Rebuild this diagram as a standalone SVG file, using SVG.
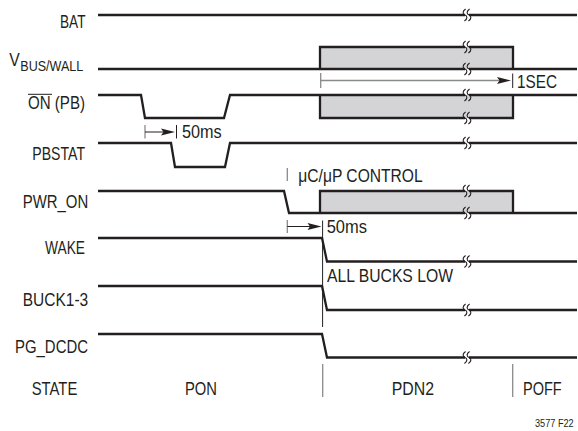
<svg xmlns="http://www.w3.org/2000/svg" xmlns:xlink="http://www.w3.org/1999/xlink" width="578" height="431" viewBox="0 0 578 431">
<style>
text{font-family:"Liberation Sans Narrow","Liberation Sans",Arial,sans-serif;font-size:17.5px;fill:#231f20}
.sub{font-size:15px}
.small{font-size:11px}
.sig{fill:none;stroke:#231f20;stroke-width:2.3;stroke-linejoin:miter}
.box{fill:#d4d4d6;stroke:none}
.brk{fill:none;stroke:#231f20;stroke-width:1.1}
.thin{fill:none;stroke:#231f20;stroke-width:1}
.gray{fill:none;stroke:#8a8a8a;stroke-width:1.3}
.ah{fill:#231f20}
</style>
<defs>
<path id="bm" d="M0.6,-6 C-2.6,-4 -2.6,-1 0,0 C2.6,1 2.6,4 -0.6,6"/>
</defs>
<g id="BAT">
<text x="60" y="28" textLength="25.5" lengthAdjust="spacingAndGlyphs">BAT</text>
<path class="sig" d="M98,15 H465 M469,15 H577"/>
<use href="#bm" xlink:href="#bm" class="brk" x="465" y="15"/><use href="#bm" xlink:href="#bm" class="brk" x="469" y="15"/>
</g>
<g id="VBUS">
<text x="9.3" y="66" textLength="10.5" lengthAdjust="spacingAndGlyphs">V</text>
<text class="sub" x="20.3" y="70.5" textLength="63" lengthAdjust="spacingAndGlyphs">BUS/WALL</text>
<rect class="box" x="320" y="47" width="193" height="22"/>
<path class="sig" d="M98,69 H465 M469,69 H577"/>
<path class="sig" d="M320,69 V47 H465 M469,47 H513 V69"/>
<use href="#bm" xlink:href="#bm" class="brk" x="465" y="47"/><use href="#bm" xlink:href="#bm" class="brk" x="469" y="47"/>
<use href="#bm" xlink:href="#bm" class="brk" x="465" y="69"/><use href="#bm" xlink:href="#bm" class="brk" x="469" y="69"/>
</g>
<g id="ON_PB">
<text x="28" y="108.5" textLength="57" lengthAdjust="spacingAndGlyphs">ON (PB)</text>
<line class="thin" x1="28" y1="94.3" x2="52" y2="94.3"/>
<rect class="box" x="320" y="95" width="193" height="23"/>
<path class="sig" d="M98,95 H141 L145,118 H224 L230,95 H465 M469,95 H577"/>
<path class="sig" d="M320,95 V118 H465 M469,118 H513 V95"/>
<use href="#bm" xlink:href="#bm" class="brk" x="465" y="95"/><use href="#bm" xlink:href="#bm" class="brk" x="469" y="95"/>
<use href="#bm" xlink:href="#bm" class="brk" x="465" y="118"/><use href="#bm" xlink:href="#bm" class="brk" x="469" y="118"/>
</g>
<g id="PBSTAT">
<text x="32.3" y="159.5" textLength="52.7" lengthAdjust="spacingAndGlyphs">PBSTAT</text>
<path class="sig" d="M98,143 H171 L175,167 H225 L230,143 H465 M469,143 H577"/>
<use href="#bm" xlink:href="#bm" class="brk" x="465" y="143"/><use href="#bm" xlink:href="#bm" class="brk" x="469" y="143"/>
</g>
<g id="PWR_ON">
<text x="22.7" y="208" textLength="65.5" lengthAdjust="spacingAndGlyphs">PWR_ON</text>
<rect class="box" x="320" y="191" width="193" height="22"/>
<path class="sig" d="M98,191 H284 L289,213 H465 M469,213 H577"/>
<path class="sig" d="M320,213 V191 H465 M469,191 H513 V213"/>
<use href="#bm" xlink:href="#bm" class="brk" x="465" y="191"/><use href="#bm" xlink:href="#bm" class="brk" x="469" y="191"/>
<use href="#bm" xlink:href="#bm" class="brk" x="465" y="213"/><use href="#bm" xlink:href="#bm" class="brk" x="469" y="213"/>
<text x="298.3" y="182" textLength="124.4" lengthAdjust="spacingAndGlyphs">μC/μP CONTROL</text>
</g>
<g id="WAKE">
<text x="45" y="254" textLength="40" lengthAdjust="spacingAndGlyphs">WAKE</text>
<path class="sig" d="M98,238 H322 L327,261.5 H465 M469,261.5 H577"/>
<use href="#bm" xlink:href="#bm" class="brk" x="465" y="261.5"/><use href="#bm" xlink:href="#bm" class="brk" x="469" y="261.5"/>
<text x="327" y="281.7" textLength="126" lengthAdjust="spacingAndGlyphs">ALL BUCKS LOW</text>
</g>
<g id="BUCK1-3">
<text x="22.7" y="306" textLength="65.5" lengthAdjust="spacingAndGlyphs">BUCK1-3</text>
<path class="sig" d="M98,286 H322 L327,310 H465 M469,310 H577"/>
<use href="#bm" xlink:href="#bm" class="brk" x="465" y="310"/><use href="#bm" xlink:href="#bm" class="brk" x="469" y="310"/>
</g>
<g id="PG_DCDC">
<text x="15" y="353" textLength="73" lengthAdjust="spacingAndGlyphs">PG_DCDC</text>
<path class="sig" d="M98,334 H322 L327,357.5 H465 M469,357.5 H577"/>
<use href="#bm" xlink:href="#bm" class="brk" x="465" y="357.5"/><use href="#bm" xlink:href="#bm" class="brk" x="469" y="357.5"/>
</g>
<g id="STATE">
<text x="31.7" y="394.5" textLength="45.6" lengthAdjust="spacingAndGlyphs">STATE</text>
<text x="185" y="395" textLength="32" lengthAdjust="spacingAndGlyphs">PON</text>
<text x="391.7" y="394.5" textLength="42.3" lengthAdjust="spacingAndGlyphs">PDN2</text>
<text x="523" y="394.5" textLength="38.7" lengthAdjust="spacingAndGlyphs">POFF</text>
</g>
<g id="connectors">
<line class="gray" x1="145" y1="125" x2="145" y2="138.5"/>
<line class="thin" x1="145" y1="132" x2="164" y2="132"/>
<path class="ah" d="M175,132 L161,128.6 L163.5,132 L161,135.4 Z"/>
<line class="thin" x1="176.5" y1="125" x2="176.5" y2="138.5"/>
<line class="gray" x1="320.7" y1="73" x2="320.7" y2="88"/>
<line class="gray" x1="320.7" y1="80.5" x2="500" y2="80.5"/>
<path class="ah" d="M511,80.5 L497,77.1 L499.5,80.5 L497,83.9 Z"/>
<line class="thin" x1="512.7" y1="73.5" x2="512.7" y2="88"/>
<line class="gray" x1="287.3" y1="168" x2="287.3" y2="181"/>
<line class="gray" x1="287.3" y1="220" x2="287.3" y2="233"/>
<line class="thin" x1="287.3" y1="226.5" x2="310" y2="226.5"/>
<path class="ah" d="M321.5,226.5 L307.5,223.1 L310,226.5 L307.5,229.9 Z"/>
<line class="thin" x1="322.6" y1="220.5" x2="322.6" y2="327"/>
<line class="gray" x1="322.7" y1="364" x2="322.7" y2="397"/>
<line class="gray" x1="512.7" y1="364" x2="512.7" y2="397"/>
</g>
<text x="182" y="138.3" textLength="39.7" lengthAdjust="spacingAndGlyphs">50ms</text>
<text x="517" y="88" textLength="40" lengthAdjust="spacingAndGlyphs">1SEC</text>
<text x="326.7" y="233" textLength="40.3" lengthAdjust="spacingAndGlyphs">50ms</text>
<text class="small" x="535" y="427" textLength="38.7" lengthAdjust="spacingAndGlyphs">3577 F22</text>
</svg>
